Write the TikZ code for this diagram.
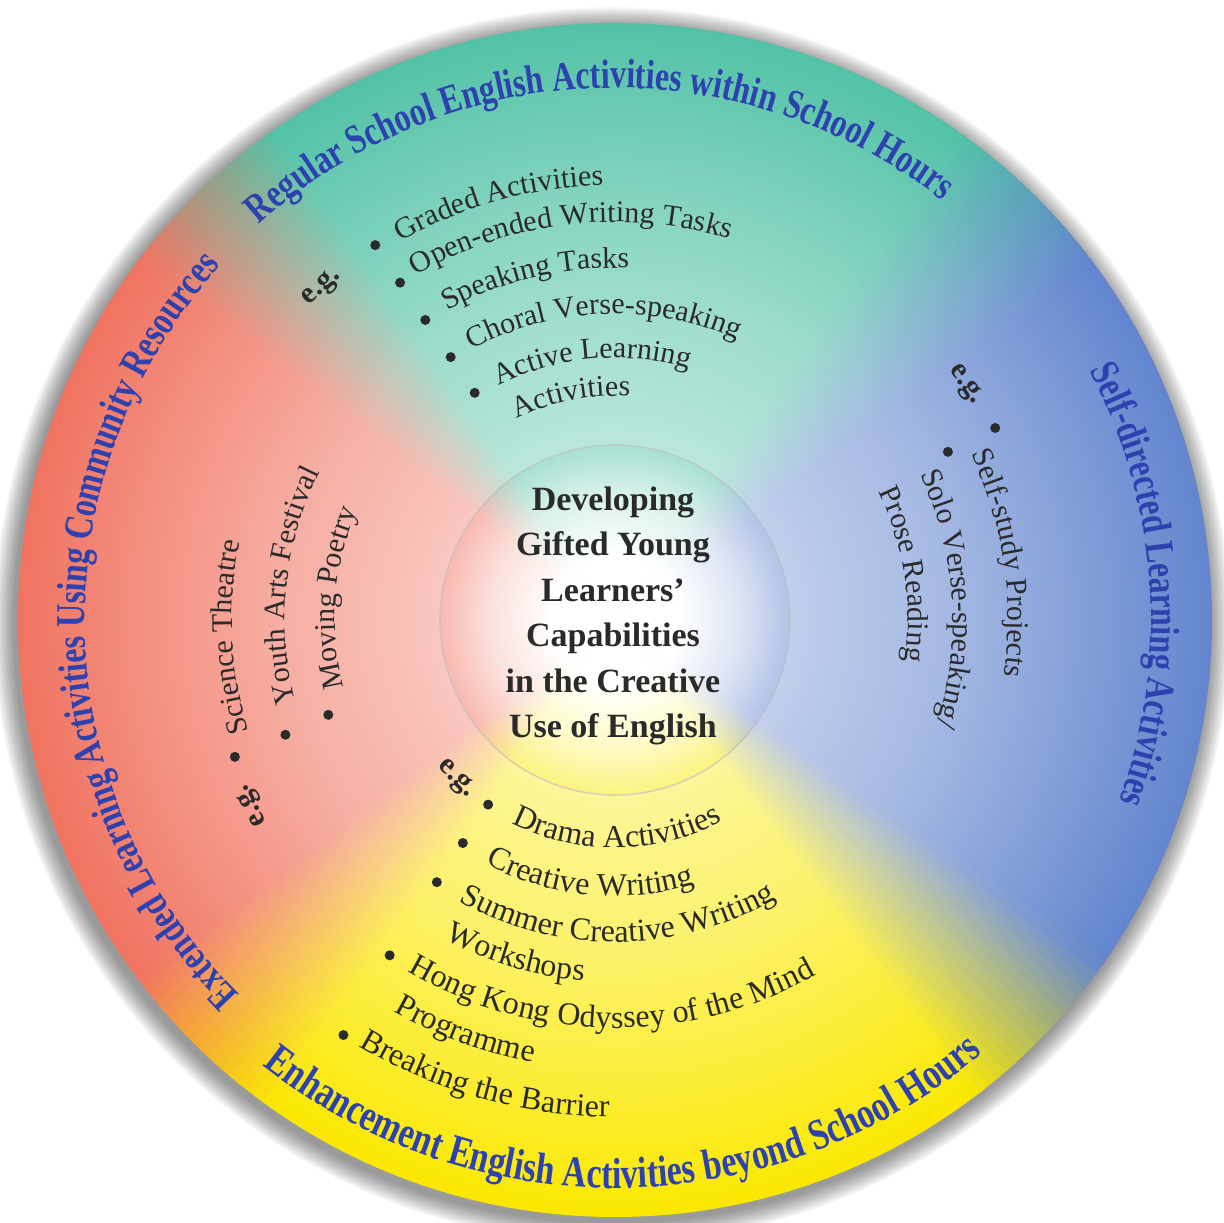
\documentclass[tikz,border=0pt]{standalone}
\usepackage{fontspec}
\usepackage{xcolor}
\usepackage{tikz}
\usetikzlibrary{decorations.text}
\setmainfont{Liberation Serif}
\newfontfamily\titlefam[FakeStretch=0.78]{Liberation Serif}
\definecolor{quadteal}  {HTML}{52C2A6}
\definecolor{quadblue}  {HTML}{6285CE}
\definecolor{quadred}   {HTML}{F07360}
\definecolor{quadyellow}{HTML}{FAE800}
\definecolor{titleblue} {HTML}{2D41AF}
\definecolor{inkgray}   {HTML}{2A2A2A}
\colorlet{wedgeout}{white}
\newcommand\titlefont{\titlefam\bfseries\fontsize{41}{41}\selectfont}
\newcommand\lowtitlefont{\titlefam\bfseries\fontsize{43.5}{43.5}\selectfont}
\newcommand\listfont{\fontsize{30}{30}\selectfont}
\newcommand\lowlistfont{\fontsize{32}{32}\selectfont}

% radial fades for the rim sectors and for the centre ball
\pgfdeclareradialshading[wedgeout]{rimwedge}{\pgfpointorigin}{%
  color(0bp)=(white); color(4bp)=(wedgeout!28!white);
  color(9bp)=(wedgeout!45!white); color(14bp)=(wedgeout!58!white);
  color(20bp)=(wedgeout!80!white); color(25bp)=(wedgeout);
  color(50bp)=(wedgeout)}
\pgfdeclareradialshading[wedgeout]{ballwedge}{\pgfpointorigin}{%
  color(0bp)=(white); color(9bp)=(white);
  color(18bp)=(wedgeout!22!white); color(25bp)=(wedgeout!50!white);
  color(50bp)=(wedgeout!50!white)}

\newcommand\paintsector[5]{% start, end, colour, shading, radius
  \colorlet{wedgeout}{#3}%
  \begin{scope}
    \clip (0,0) -- (#1:700) arc[start angle=#1, end angle=#2, radius=700] -- cycle;
    \shade[shading=#4] (0,0) circle (#5);
  \end{scope}}
\newcommand\paintdisc[2]{% shading, radius
  \paintsector{-35.3}{37.3}{quadblue}{#1}{#2}
  \paintsector{54.7}{125.3}{quadteal}{#1}{#2}
  \paintsector{142.7}{217.3}{quadred}{#1}{#2}
  \paintsector{234.7}{307.3}{quadyellow}{#1}{#2}
  % soft seams between neighbouring quadrants
  \foreach \bnd/\cola/\colb in {46/quadblue/quadteal, 134/quadteal/quadred,
                                226/quadred/quadyellow, 316/quadyellow/quadblue}{
    \foreach \i in {0,...,17}{
      \pgfmathsetmacro\angA{\bnd-9+\i-0.2}
      \pgfmathsetmacro\angB{\bnd-8+\i+0.2}
      \pgfmathtruncatemacro\mixpct{(\i+0.5)*100/18}
      \paintsector{\angA}{\angB}{\colb!\mixpct!\cola}{#1}{#2}
    }}}

\begin{document}
\begin{tikzpicture}[x=1pt, y=1pt,
  % rim titles centred on their arc, example lists start at a fixed angle
  titlearc/.style={decorate, decoration={text along path, text align=center,
      text color=titleblue, text={|\titlefont|#1}}},
  lowtitlearc/.style={decorate, decoration={text along path, text align=center,
      text color=titleblue, text={|\lowtitlefont|#1}}},
  listarc/.style={decorate, decoration={text along path, text align=left,
      text color=inkgray, text={|\listfont|#1}}},
  lowarc/.style={decorate, decoration={text along path, text align=left,
      text color=inkgray, text={|\lowlistfont|#1}}},
  itemdot/.style={circle, fill=inkgray, inner sep=0pt, minimum size=10pt},
  eg/.style={font=\fontsize{30}{30}\selectfont\bfseries, text=inkgray, inner sep=0pt},
  core/.style={align=center, font=\fontsize{34}{45.5}\selectfont\bfseries, text=inkgray}
]
\useasboundingbox (-615,-603) rectangle (609,620);

% --- Drop shadow round the wheel ---
\foreach \k in {1,...,16}
  \fill[black, opacity=0.03] (-3,-5) circle ({597+1.3*\k});

% --- Wheel and centre ball ---
\paintdisc{rimwedge}{597}
\begin{scope}
  \clip (0,0) circle (175);
  \paintdisc{ballwedge}{175}
\end{scope}
\draw[black!25, opacity=0.6, line width=1.6pt] (0,0) circle (175);

% --- Centre ---
\node[core] (core) at (-2,4) {Developing\\Gifted Young\\Learners’\\Capabilities\\in the Creative\\Use of English};

% --- Rim titles ---
\path[titlearc={Regular School English Activities within School Hours}]
  (167:532) arc[start angle=167, end angle=17, radius=532];
\path[titlearc={Self-directed Learning Activities}]
  (64:536) arc[start angle=64, end angle=-56, radius=536];
\path[lowtitlearc={Enhancement English Activities beyond School Hours}]
  (-159:568) arc[start angle=-159, end angle=-19, radius=568];
\path[titlearc={Extended Learning Activities Using Community Resources}]
  (246:530) arc[start angle=246, end angle=117, radius=530];

% --- Top: regular school hours ---
\node[eg, rotate=41] (egtop) at (131.4:443) {e.g.};
\path[listarc={Graded Activities}] (119.5:435) arc[start angle=119.5, end angle=40, radius=435];
\path[listarc={Open-ended Writing Tasks}] (120:398) arc[start angle=120, end angle=40, radius=398];
\path[listarc={Speaking Tasks}] (118.5:352) arc[start angle=118.5, end angle=40, radius=352];
\path[listarc={Choral Verse-speaking}] (118:306) arc[start angle=118, end angle=30, radius=306];
\path[listarc={Active Learning}] (116.5:262) arc[start angle=116.5, end angle=30, radius=262];
\path[listarc={Activities}] (116:224) arc[start angle=116, end angle=30, radius=224];
\node[itemdot] (t1) at (122.6:445) {};
\node[itemdot] (t2) at (122.5:400) {};
\node[itemdot] (t3) at (122.3:355) {};
\node[itemdot] (t4) at (122:310) {};
\node[itemdot] (t5) at (121.7:267) {};

% --- Right: self-directed ---
\node[eg, rotate=-56] (egright) at (33.9:422) {e.g.};
\path[listarc={Self-study Projects}] (25:393) arc[start angle=25, end angle=-50, radius=393];
\path[listarc={Solo Verse-speaking/}] (25.5:338) arc[start angle=25.5, end angle=-60, radius=338];
\path[listarc={Prose Reading}] (26:293) arc[start angle=26, end angle=-60, radius=293];
\node[itemdot] (r1) at (26.8:426) {};
\node[itemdot] (r2) at (26.8:373) {};

% --- Left: community resources ---
\node[eg, rotate=117] (egleft) at (207:407) {e.g.};
\path[listarc={Science Theatre}] (197:383) arc[start angle=197, end angle=120, radius=383];
\path[listarc={Youth Arts Festival}] (194.5:330) arc[start angle=194.5, end angle=110, radius=330];
\path[listarc={Moving Poetry}] (194:280) arc[start angle=194, end angle=110, radius=280];
\node[itemdot] (l1) at (199.8:404) {};
\node[itemdot] (l2) at (199.2:349) {};
\node[itemdot] (l3) at (198.3:302) {};

% --- Bottom: beyond school hours ---
\node[eg, rotate=-45] (egbottom) at (-135:225) {e.g.};
\path[lowarc={Drama Activities}] (-117:228) arc[start angle=-117, end angle=-20, radius=228];
\path[lowarc={Creative Writing}] (-118:276) arc[start angle=-118, end angle=-20, radius=276];
\path[lowarc={Summer Creative Writing}] (-119:322) arc[start angle=-119, end angle=-20, radius=322];
\path[lowarc={Workshops}] (-118:362) arc[start angle=-118, end angle=-20, radius=362];
\path[lowarc={Hong Kong Odyssey of the Mind}] (-120.5:408) arc[start angle=-120.5, end angle=-30, radius=408];
\path[lowarc={Programme}] (-119.5:450) arc[start angle=-119.5, end angle=-30, radius=450];
\path[lowarc={Breaking the Barrier}] (-121:497) arc[start angle=-121, end angle=-30, radius=497];
\node[itemdot] (b1) at (-124.5:224) {};
\node[itemdot] (b2) at (-124.3:270) {};
\node[itemdot] (b3) at (-124.2:317) {};
\node[itemdot] (b4) at (-123.9:404) {};
\node[itemdot] (b5) at (-123.2:496) {};

\end{tikzpicture}
\end{document}
